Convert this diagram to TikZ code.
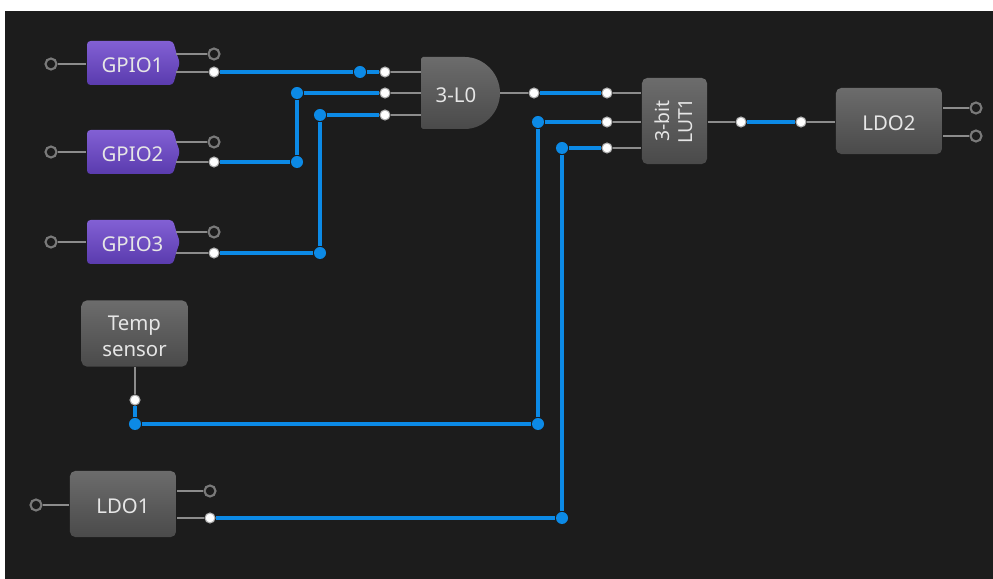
\documentclass[tikz,border=0pt]{standalone}
\usepackage{fontspec}
\setmainfont{Noto Sans}
\definecolor{panelbg}{HTML}{1C1C1C}
\definecolor{wiregray}{HTML}{8C8C8C}
\definecolor{pinring}{HTML}{7A7A7A}
\definecolor{busblue}{HTML}{0C8AE6}
\definecolor{boxtop}{HTML}{6C6C6C}
\definecolor{boxbot}{HTML}{4A4A4A}
\definecolor{gpiotop}{HTML}{8260D4}
\definecolor{gpiobot}{HTML}{5A3BAE}
\definecolor{labeltext}{HTML}{E6E6E6}
\tikzset{
	boxtext/.style={text=labeltext,font=\fontsize{5.8}{7.6}\selectfont,align=center,inner sep=0pt},
	oneline/.style={text height=5.3pt,text depth=0pt},
	greybox/.style={boxtext,rounded corners=1.5pt,top color=boxtop,bottom color=boxbot,minimum width=1.06cm,minimum height=.66cm},
	gpiobox/.style={boxtext,oneline,minimum width=.91cm,minimum height=.44cm},
	gpiofill/.style={top color=gpiotop,bottom color=gpiobot,rounded corners=1pt},
	openpin/.style={circle,draw=pinring,line width=.6pt,fill=panelbg,minimum size=.11cm,inner sep=0pt},
	usedpin/.style={circle,draw=wiregray!70,line width=.3pt,fill=white,minimum size=.1cm,inner sep=0pt},
	busdot/.style={circle,fill=busblue,minimum size=.12cm,inner sep=0pt},
	wire/.style={draw=wiregray,line width=.5pt},
	bus/.style={draw=busblue,line width=1.05pt}
}
\begin{document}
\begin{tikzpicture}[x=.01cm,y=-.01cm]
	\useasboundingbox (0,0) rectangle (993,579);
	\fill[white] (0,0) rectangle (993,579);
	\fill[panelbg] (5,11) rectangle (993,579);
	
	% blocks
	\shade[gpiofill] (87,41) -- (173,41) -- (177,55) -- (180,63) -- (177,71) -- (173,85) -- (87,85) -- cycle;
	\shade[gpiofill] (87,130) -- (173,130) -- (177,144) -- (180,152) -- (177,160) -- (173,174) -- (87,174) -- cycle;
	\shade[gpiofill] (87,220) -- (173,220) -- (177,234) -- (180,242) -- (177,250) -- (173,264) -- (87,264) -- cycle;
	\node[gpiobox] (gpio1) at (132.5,63) {GPIO1};
	\node[gpiobox] (gpio2) at (132.5,152) {GPIO2};
	\node[gpiobox] (gpio3) at (132.5,242) {GPIO3};
	\node[greybox] (temp) at (134.5,333.5) {\rule{0pt}{5.8pt}Temp\\sensor};
	\node[greybox,oneline] (ldo1) at (123,504) {LDO1};
	\node[greybox,oneline] (ldo2) at (889,121) {LDO2};
	\node[greybox,minimum width=.65cm,minimum height=.86cm] (lut) at (674.5,121) {\hspace*{.85pt}\rotatebox{90}{\fontsize{5.5}{7}\selectfont\begin{tabular}{@{}c@{}}3-bit\\[-.6pt]LUT1\end{tabular}}};
	\shade[top color=boxtop,bottom color=boxbot,rounded corners=.5pt] (421,57) -- (463,57) arc (-90:90:37 and 36) -- (421,129) -- cycle;
	\node[boxtext,oneline] (lzero) at (456,93) {3-L0};
	\coordinate (lzeroout) at (500,93);
	
	% pins
	\node[openpin] (gpio1in) at (51,64) {};
	\node[openpin] (gpio1a) at (214,54) {};
	\node[usedpin] (gpio1b) at (214,72) {};
	\node[openpin] (gpio2in) at (51,152) {};
	\node[openpin] (gpio2a) at (214,142) {};
	\node[usedpin] (gpio2b) at (214,162) {};
	\node[openpin] (gpio3in) at (51,242) {};
	\node[openpin] (gpio3a) at (214,232) {};
	\node[usedpin] (gpio3b) at (214,253) {};
	\node[usedpin] (tempout) at (135,400) {};
	\node[openpin] (ldo1in) at (36,505) {};
	\node[openpin] (ldo1a) at (210,491) {};
	\node[usedpin] (ldo1b) at (210,518) {};
	\node[usedpin] (lzeroa) at (385,72) {};
	\node[usedpin] (lzerob) at (385,93) {};
	\node[usedpin] (lzeroc) at (385,115) {};
	\node[usedpin] (lzeroq) at (534,93) {};
	\node[usedpin] (luta) at (607,93) {};
	\node[usedpin] (lutb) at (607,122) {};
	\node[usedpin] (lutc) at (607,148) {};
	\node[usedpin] (lutq) at (741,122) {};
	\node[usedpin] (ldo2in) at (801,122) {};
	\node[openpin] (ldo2a) at (976,108) {};
	\node[openpin] (ldo2b) at (976,136) {};
	
	% junctions
	\node[busdot] (jone) at (360,72) {};
	\node[busdot] (jtwo) at (297,162) {};
	\node[busdot] (jtwoup) at (297,93) {};
	\node[busdot] (jthree) at (320,253) {};
	\node[busdot] (jthreeup) at (320,115) {};
	\node[busdot] (jtemp) at (135,424) {};
	\node[busdot] (jtempr) at (538,424) {};
	\node[busdot] (jtempup) at (538,122) {};
	\node[busdot] (jldo) at (562,518) {};
	\node[busdot] (jldoup) at (562,148) {};
	
	% grey stubs
	\draw[wire] (gpio1in) -- (gpio1.west |- gpio1in);
	\draw[wire] (gpio2in) -- (gpio2.west |- gpio2in);
	\draw[wire] (gpio3in) -- (gpio3.west |- gpio3in);
	\draw[wire] (gpio1a) -- (176,54);
	\draw[wire] (gpio1b) -- (176,72);
	\draw[wire] (gpio2a) -- (176,142);
	\draw[wire] (gpio2b) -- (176,162);
	\draw[wire] (gpio3a) -- (176,232);
	\draw[wire] (gpio3b) -- (176,253);
	\draw[wire] (tempout) -- (temp.south -| tempout);
	\draw[wire] (ldo1in) -- (ldo1.west |- ldo1in);
	\draw[wire] (ldo1a) -- (ldo1.east |- ldo1a);
	\draw[wire] (ldo1b) -- (ldo1.east |- ldo1b);
	\draw[wire] (lzeroa) -- (421,72);
	\draw[wire] (lzerob) -- (421,93);
	\draw[wire] (lzeroc) -- (421,115);
	\draw[wire] (lzeroout) -- (lzeroq);
	\draw[wire] (luta) -- (lut.west |- luta);
	\draw[wire] (lutb) -- (lut.west |- lutb);
	\draw[wire] (lutc) -- (lut.west |- lutc);
	\draw[wire] (lut.east |- lutq) -- (lutq);
	\draw[wire] (ldo2in) -- (ldo2.west |- ldo2in);
	\draw[wire] (ldo2a) -- (ldo2.east |- ldo2a);
	\draw[wire] (ldo2b) -- (ldo2.east |- ldo2b);
	
	% blue nets
	\draw[bus] (gpio1b) -- (jone) -- (lzeroa);
	\draw[bus] (gpio2b) -- (jtwo) -- (jtwoup) -- (lzerob);
	\draw[bus] (gpio3b) -- (jthree) -- (jthreeup) -- (lzeroc);
	\draw[bus] (tempout) -- (jtemp) -- (jtempr) -- (jtempup) -- (lutb);
	\draw[bus] (ldo1b) -- (jldo) -- (jldoup) -- (lutc);
	\draw[bus] (lzeroq) -- (luta);
	\draw[bus] (lutq) -- (ldo2in);
\end{tikzpicture}
\end{document}
